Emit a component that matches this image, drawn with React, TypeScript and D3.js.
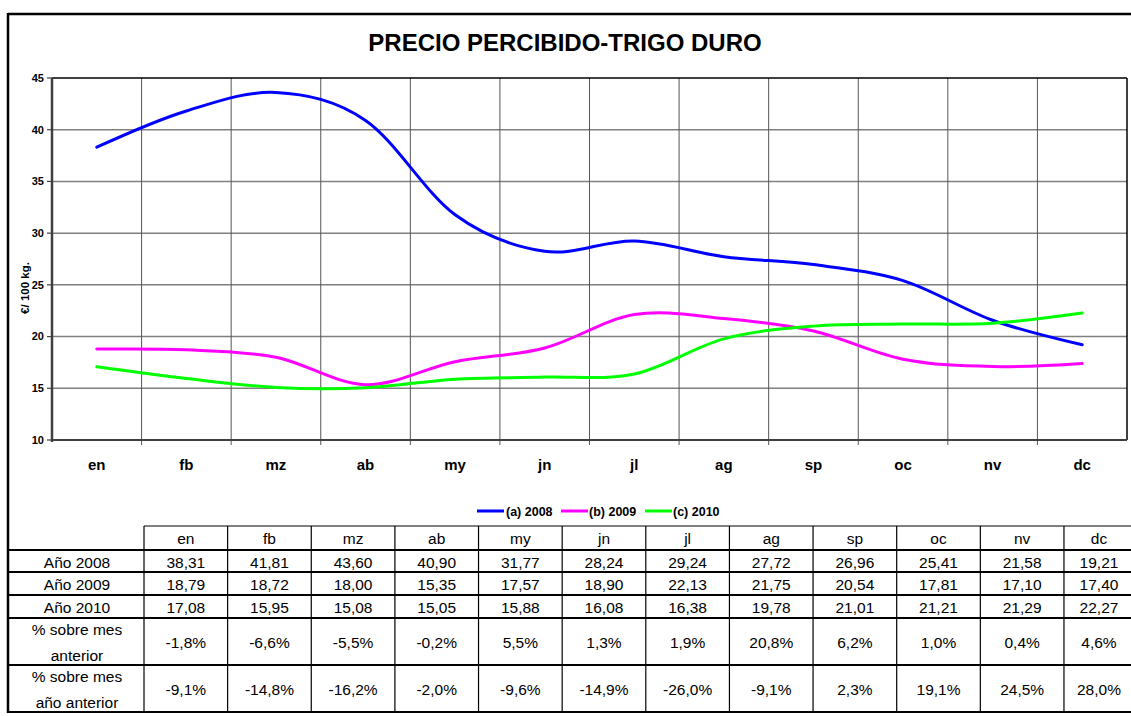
import React from 'react'
import * as d3 from 'd3'

const months = ['en', 'fb', 'mz', 'ab', 'my', 'jn', 'jl', 'ag', 'sp', 'oc', 'nv', 'dc']
const y2008 = [38.31, 41.81, 43.6, 40.9, 31.77, 28.24, 29.24, 27.72, 26.96, 25.41, 21.58, 19.21]
const y2009 = [18.79, 18.72, 18.0, 15.35, 17.57, 18.9, 22.13, 21.75, 20.54, 17.81, 17.1, 17.4]
const y2010 = [17.08, 15.95, 15.08, 15.05, 15.88, 16.08, 16.38, 19.78, 21.01, 21.21, 21.29, 22.27]
const pctPrevMonth = [-1.8, -6.6, -5.5, -0.2, 5.5, 1.3, 1.9, 20.8, 6.2, 1.0, 0.4, 4.6]
const pctPrevYear = [-9.1, -14.8, -16.2, -2.0, -9.6, -14.9, -26.0, -9.1, 2.3, 19.1, 24.5, 28.0]
const yTicks = [10, 15, 20, 25, 30, 35, 40, 45]

const seriesList = [
  { name: '(a) 2008', values: y2008, color: '#0000ff' },
  { name: '(b) 2009', values: y2009, color: '#ff00ff' },
  { name: '(c) 2010', values: y2010, color: '#00ff00' }
]

const W = 1131
const H = 716
const font = 'Arial, "Liberation Sans", sans-serif'

const fmtNum = (v: number) => v.toFixed(2).replace('.', ',')
const fmtPct = (v: number) => `${v.toFixed(1).replace('.', ',')}%`

export default function App() {
  const plot = { left: 52, right: 1127, top: 78, bottom: 440 }
  const x = d3.scaleBand().domain(months).range([plot.left, plot.right]).padding(0)
  const y = d3.scaleLinear().domain([10, 45]).range([plot.bottom, plot.top])
  const cx = (m: string) => (x(m) ?? 0) + x.bandwidth() / 2

  const line = d3
    .line<number>()
    .x((_, i) => cx(months[i]))
    .y((d) => y(d))
    .curve(d3.curveCardinal.tension(0))

  // table geometry
  const tx = d3.scaleBand().domain(months).range([144, 1147.6]).padding(0)
  const rowLines = [550, 572, 595, 618, 665, 712]
  const tableRows = [
    { label: ['Año 2008'], cells: y2008.map(fmtNum) },
    { label: ['Año 2009'], cells: y2009.map(fmtNum) },
    { label: ['Año 2010'], cells: y2010.map(fmtNum) },
    { label: ['% sobre mes', 'anterior'], cells: pctPrevMonth.map(fmtPct) },
    { label: ['% sobre mes', 'año anterior'], cells: pctPrevYear.map(fmtPct) }
  ]
  const cellX = (m: string) => {
    const x0 = tx(m) ?? 0
    const x1 = Math.min(x0 + tx.bandwidth(), 1134)
    return (x0 + x1) / 2
  }

  const legendItems = [
    { x0: 477, tx: 506 },
    { x0: 561, tx: 589 },
    { x0: 645, tx: 673 }
  ]

  return (
    <div style={{ position: 'absolute', left: 0, top: 0 }}>
      <svg width={W} height={H} style={{ display: 'block', background: '#fff' }} fontFamily={font}>
        <rect x={0} y={0} width={W} height={H} fill="#fff" />

        {/* outer frame */}
        <line x1={8} x2={W} y1={14} y2={14} stroke="#000" strokeWidth={2.5} />
        <line x1={8} x2={8} y1={13} y2={713} stroke="#000" strokeWidth={2.5} />

        <text x={565} y={51} textAnchor="middle" fontSize={24} fontWeight="bold" fill="#000">
          PRECIO PERCIBIDO-TRIGO DURO
        </text>

        {/* horizontal gridlines */}
        {yTicks.slice(1, -1).map((t) => (
          <line key={`h${t}`} x1={plot.left} x2={plot.right} y1={y(t)} y2={y(t)} stroke="#808080" strokeWidth={1.5} />
        ))}
        {/* vertical gridlines */}
        {months.slice(1).map((m) => (
          <line key={`v${m}`} x1={x(m) ?? 0} x2={x(m) ?? 0} y1={plot.top} y2={plot.bottom + 5} stroke="#555" strokeWidth={1} />
        ))}
        {/* plot border top/right */}
        <line x1={plot.left} x2={plot.right} y1={plot.top} y2={plot.top} stroke="#000" strokeWidth={1.5} />
        <line x1={plot.right} x2={plot.right} y1={plot.top} y2={plot.bottom} stroke="#000" strokeWidth={1.5} />

        {/* y axis */}
        <line x1={plot.left} x2={plot.left} y1={plot.top} y2={plot.bottom + 2} stroke="#404040" strokeWidth={2.5} />
        {yTicks.map((t) => (
          <g key={`yt${t}`}>
            <line x1={plot.left - 5} x2={plot.left} y1={y(t)} y2={y(t)} stroke="#404040" strokeWidth={1.2} />
            <text x={44} y={y(t)} dy="0.35em" textAnchor="end" fontSize={11} fontWeight="bold" fill="#000">
              {t}
            </text>
          </g>
        ))}
        <text
          transform={`translate(29,288) rotate(-90)`}
          textAnchor="middle"
          fontSize={11.5}
          fontWeight="bold"
          fill="#000"
        >
          €/ 100 kg.
        </text>

        {/* x axis */}
        <line x1={plot.left} x2={plot.right} y1={plot.bottom} y2={plot.bottom} stroke="#404040" strokeWidth={2} />
        {months.map((m) => (
          <text key={`xl${m}`} x={cx(m)} y={470} textAnchor="middle" fontSize={15} fontWeight="bold" fill="#000">
            {m}
          </text>
        ))}

        {/* series */}
        {seriesList.map((s) => (
          <path key={s.name} d={line(s.values) ?? ''} fill="none" stroke={s.color} strokeWidth={3} strokeLinecap="round" />
        ))}

        {/* legend */}
        {seriesList.map((s, i) => (
          <g key={`lg${s.name}`}>
            <line x1={legendItems[i].x0} x2={legendItems[i].x0 + 27} y1={511} y2={511} stroke={s.color} strokeWidth={3} />
            <text x={legendItems[i].tx} y={511} dy="0.36em" fontSize={12.5} fontWeight="bold" fill="#000">
              {s.name}
            </text>
          </g>
        ))}

        {/* table */}
        <line x1={144} x2={W} y1={526} y2={526} stroke="#000" strokeWidth={1} />
        {rowLines.map((ry) => (
          <line key={`rl${ry}`} x1={8} x2={W} y1={ry} y2={ry} stroke="#000" strokeWidth={2} />
        ))}
        <line x1={144} x2={144} y1={526} y2={712} stroke="#000" strokeWidth={1.2} />
        {months.map((m) => (
          <line key={`cl${m}`} x1={(tx(m) ?? 0) + tx.bandwidth()} x2={(tx(m) ?? 0) + tx.bandwidth()} y1={526} y2={712} stroke="#000" strokeWidth={1.2} />
        ))}
        {months.map((m) => (
          <text key={`th${m}`} x={cellX(m)} y={539} dy="0.35em" textAnchor="middle" fontSize={15.5} fill="#000">
            {m}
          </text>
        ))}
        {tableRows.map((r, ri) => {
          const top = rowLines[ri]
          const bot = rowLines[ri + 1]
          const mid = (top + bot) / 2 + 1.5
          return (
            <g key={`row${ri}`}>
              {r.label.length === 1 ? (
                <text x={77} y={mid} dy="0.35em" textAnchor="middle" fontSize={15.5} fill="#000">
                  {r.label[0]}
                </text>
              ) : (
                r.label.map((l, li) => (
                  <text key={li} x={77} y={mid + (li === 0 ? -13 : 13)} dy="0.35em" textAnchor="middle" fontSize={15.5} fill="#000">
                    {l}
                  </text>
                ))
              )}
              {r.cells.map((c, ci) => (
                <text key={ci} x={cellX(months[ci])} y={mid} dy="0.35em" textAnchor="middle" fontSize={15.5} fill="#000">
                  {c}
                </text>
              ))}
            </g>
          )
        })}
      </svg>
    </div>
  )
}
